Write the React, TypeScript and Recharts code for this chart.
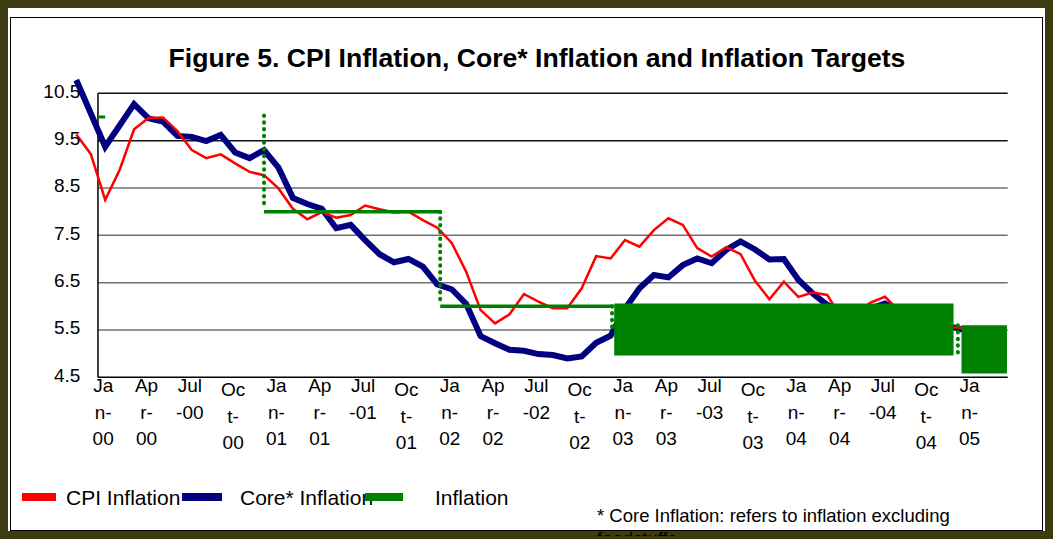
import React from "react";
import { ComposedChart, Line, Area, XAxis, YAxis, ReferenceLine } from "recharts";

// month index: 0 = Jan-00, series start two months earlier (Nov-99)
const firstMonth = -2;

const cpiInflation = [
  9.63, 9.22, 8.25, 8.88, 9.74, 9.98, 9.99, 9.7, 9.3, 9.13,
  9.21, 9.02, 8.84, 8.77, 8.49, 8.06, 7.84, 7.99, 7.87, 7.93,
  8.13, 8.05, 7.98, 8.0, 7.82, 7.66, 7.34, 6.73, 5.92, 5.64,
  5.83, 6.26, 6.1, 5.96, 5.96, 6.38, 7.06, 7.01, 7.4, 7.26,
  7.61, 7.86, 7.72, 7.23, 7.05, 7.25, 7.1, 6.54, 6.15, 6.52,
  6.2, 6.29, 6.24, 5.75, 5.85, 6.08, 6.2, 5.9, 5.75, 5.65,
  5.58, 5.55, 5.5,
];

const coreInflation = [
  10.78, 10.08, 9.37, 9.82, 10.27, 9.97, 9.9, 9.6, 9.58, 9.49,
  9.62, 9.25, 9.13, 9.3, 8.93, 8.29, 8.16, 8.06, 7.65, 7.72,
  7.4, 7.1, 6.93, 7.0, 6.84, 6.46, 6.36, 6.05, 5.37, 5.22,
  5.08, 5.06, 4.99, 4.97, 4.9, 4.94, 5.23, 5.38, 5.95, 6.38,
  6.66, 6.61, 6.87, 7.01, 6.91, 7.19, 7.37, 7.2, 6.99, 7.0,
  6.56, 6.27, 6.03, 5.9, 5.85, 5.95, 6.06, 5.9, 5.75, 5.65,
  5.6, 5.54, 5.45,
];

const xTickLabels = [
  "Jan-00", "Apr-00", "Jul-00", "Oct-00",
  "Jan-01", "Apr-01", "Jul-01", "Oct-01",
  "Jan-02", "Apr-02", "Jul-02", "Oct-02",
  "Jan-03", "Apr-03", "Jul-03", "Oct-03",
  "Jan-04", "Apr-04", "Jul-04", "Oct-04",
  "Jan-05",
];
const xTickMonths = xTickLabels.map((_, i) => i * 3);
const axisStart = -0.5;
const axisEnd = 62.5;
const xTickMarks = [...xTickMonths.map((m) => m - 0.5), axisEnd];

const yTicks = [4.5, 5.5, 6.5, 7.5, 8.5, 9.5, 10.5];
const yDomain = [4.5, 10.8];

// inflation targets
const targetLevels = [
  { from: -0.5, to: 0, value: 10 },
  { from: 11, to: 23.2, value: 8 },
  { from: 23.2, to: 35.2, value: 6 },
];
const targetSteps = [
  { at: 11, top: 10.03, bottom: 8.1 },
  { at: 23.2, top: 8.0, bottom: 6.1 },
  { at: 35.1, top: 6.0, bottom: 5.45 },
  { at: 59.05, top: 5.6, bottom: 4.97 },
];
const targetBands = [
  { from: 35.25, to: 58.75, low: 4.96, high: 6.06 },
  { from: 59.3, to: 62.45, low: 4.58, high: 5.6 },
];

const series = cpiInflation.map((v, i) => ({
  m: firstMonth + i,
  cpi: v,
  core: coreInflation[i],
}));

const FONT = "'Liberation Sans', Arial, sans-serif";
const RED = "#ff0000";
const NAVY = "#000080";
const GREEN = "#008000";

const W = 1053;
const H = 539;
const PLOT = { top: 79.1, right: 45.3, bottom: 161.7, left: 76.3 };
const Y_AXIS_W = 60;
const X_AXIS_H = 80;

const wrapLabel = (s: string) =>
  s.startsWith("Jul") ? ["Jul", s.slice(3)] : [s.slice(0, 2), s.slice(2, 4), s.slice(4)];

const XLabel = ({ x, y, payload }: any) => {
  const label = xTickLabels[xTickMonths.indexOf(payload.value)] ?? "";
  const shift = label.startsWith("Oct") ? 4 : 0;
  return (
    <text x={x - 2} y={y + 15 + shift} textAnchor="middle" fontSize={19} fill="#000" fontFamily={FONT}>
      {wrapLabel(label).map((l, i) => (
        <tspan key={i} x={x - 2} dy={i === 0 ? 0 : 26.3}>
          {l}
        </tspan>
      ))}
    </text>
  );
};

const YLabel = ({ x, y, payload }: any) => (
  <text x={x + 4} y={y + 4.5} textAnchor="end" fontSize={19} fill="#000" fontFamily={FONT}>
    {payload.value}
  </text>
);

// chart with axes, grid, CPI and core lines
const MainChart = () => (
  <ComposedChart
    width={W}
    height={H}
    data={series}
    margin={{
      top: PLOT.top,
      right: PLOT.right,
      bottom: PLOT.bottom - X_AXIS_H,
      left: PLOT.left - Y_AXIS_W,
    }}
  >
    <YAxis
      yAxisId="v"
      type="number"
      domain={yDomain}
      ticks={yTicks}
      width={Y_AXIS_W}
      axisLine={false}
      tickLine={false}
      tickSize={0}
      tickMargin={0}
      tick={<YLabel />}
      interval={0}
    />
    <XAxis
      xAxisId="tk"
      dataKey="m"
      type="number"
      domain={[firstMonth, axisEnd]}
      ticks={xTickMarks}
      interval={0}
      tick={false}
      tickLine={{ stroke: "#000", strokeWidth: 1.5 }}
      tickSize={5}
      axisLine={false}
      height={0}
    />
    <XAxis
      xAxisId="lbl"
      dataKey="m"
      type="number"
      domain={[firstMonth, axisEnd]}
      ticks={xTickMonths}
      interval={0}
      tick={<XLabel />}
      tickLine={false}
      tickSize={0}
      tickMargin={0}
      axisLine={false}
      height={X_AXIS_H}
    />

    {yTicks.map((v) => (
      <ReferenceLine
        key={v}
        xAxisId="lbl"
        yAxisId="v"
        segment={[
          { x: axisStart, y: v },
          { x: axisEnd, y: v },
        ]}
        stroke={v === 4.5 ? "#000" : v >= 9.5 ? "#111" : "#707070"}
        strokeWidth={1.5}
      />
    ))}
    <ReferenceLine
      xAxisId="lbl"
      yAxisId="v"
      segment={[
        { x: axisStart, y: yTicks[0] },
        { x: axisStart, y: yTicks[yTicks.length - 1] },
      ]}
      stroke="#000"
      strokeWidth={1.5}
    />

    <Line
      xAxisId="lbl"
      yAxisId="v"
      dataKey="core"
      stroke={NAVY}
      strokeWidth={6}
      dot={false}
      isAnimationActive={false}
    />
    <Line
      xAxisId="lbl"
      yAxisId="v"
      dataKey="cpi"
      stroke={RED}
      strokeWidth={2.5}
      dot={false}
      isAnimationActive={false}
    />
  </ComposedChart>
);

// same plot area, drawn on top: inflation targets
const TargetChart = () => (
  <ComposedChart width={W} height={H} margin={PLOT}>
    <YAxis yAxisId="v" type="number" domain={yDomain} hide />
    <XAxis xAxisId="x" dataKey="m" type="number" domain={[firstMonth, axisEnd]} hide />
    {targetBands.map((b, i) => (
      <Area
        key={"band" + i}
        xAxisId="x"
        yAxisId="v"
        data={[
          { m: b.from, v: [b.low, b.high] },
          { m: b.to, v: [b.low, b.high] },
        ]}
        dataKey="v"
        type="linear"
        stroke="none"
        fill={GREEN}
        fillOpacity={1}
        isAnimationActive={false}
      />
    ))}
    {targetLevels.map((t, i) => (
      <Line
        key={"lvl" + i}
        xAxisId="x"
        yAxisId="v"
        data={[
          { m: t.from, v: t.value },
          { m: t.to, v: t.value },
        ]}
        dataKey="v"
        stroke={GREEN}
        strokeWidth={i === 0 ? 3 : 3.5}
        dot={false}
        isAnimationActive={false}
      />
    ))}
    {targetSteps.map((s, i) => (
      <Line
        key={"step" + i}
        xAxisId="x"
        yAxisId="v"
        data={[
          { m: s.at, v: s.top },
          { m: s.at, v: s.bottom },
        ]}
        dataKey="v"
        stroke={GREEN}
        strokeWidth={4}
        strokeDasharray="0.5 6.2"
        strokeLinecap="round"
        dot={false}
        isAnimationActive={false}
      />
    ))}
  </ComposedChart>
);

export default function App() {
  return (
    <div
      style={{
        position: "absolute",
        left: 0,
        top: 0,
        width: W,
        height: H,
        background: "#3c3c10",
        fontFamily: FONT,
      }}
    >
      <div style={{ position: "absolute", left: 8, top: 8, width: 1037, height: 523, background: "#fff" }} />
      <div
        style={{
          position: "absolute",
          left: 10,
          top: 17,
          width: 1033,
          height: 514,
          border: "1.5px solid #000",
          boxSizing: "border-box",
        }}
      />

      <div style={{ position: "absolute", left: 0, top: 0 }}>
        <MainChart />
      </div>
      <div style={{ position: "absolute", left: 0, top: 0 }}>
        <TargetChart />
      </div>

      <svg
        width={W}
        height={H}
        style={{ position: "absolute", left: 0, top: 0, pointerEvents: "none" }}
      >
        <text x={537} y={67} textAnchor="middle" fontSize={26.6} fontWeight="bold" fontFamily={FONT}>
          Figure 5. CPI Inflation, Core* Inflation and Inflation Targets
        </text>

        <text x={66} y={504.5} fontSize={21} fontFamily={FONT}>
          CPI Inflation
        </text>
        <text x={240} y={504.5} fontSize={21} fontFamily={FONT}>
          Core* Inflation
        </text>
        <text x={435} y={504.5} fontSize={21} fontFamily={FONT}>
          Inflation
        </text>
        <rect x={22} y={493} width={34} height={8} fill={RED} />
        <rect x={182} y={493} width={40} height={8} fill={NAVY} />
        <rect x={365} y={493} width={38} height={8} fill={GREEN} />
      </svg>

      <div
        style={{
          position: "absolute",
          left: 597,
          top: 504,
          height: 32,
          overflow: "hidden",
          fontSize: 18.5,
          lineHeight: "23px",
          color: "#000",
          whiteSpace: "nowrap",
        }}
      >
        * Core Inflation: refers to inflation excluding
        <br />
        foodstuffs
      </div>
    </div>
  );
}
